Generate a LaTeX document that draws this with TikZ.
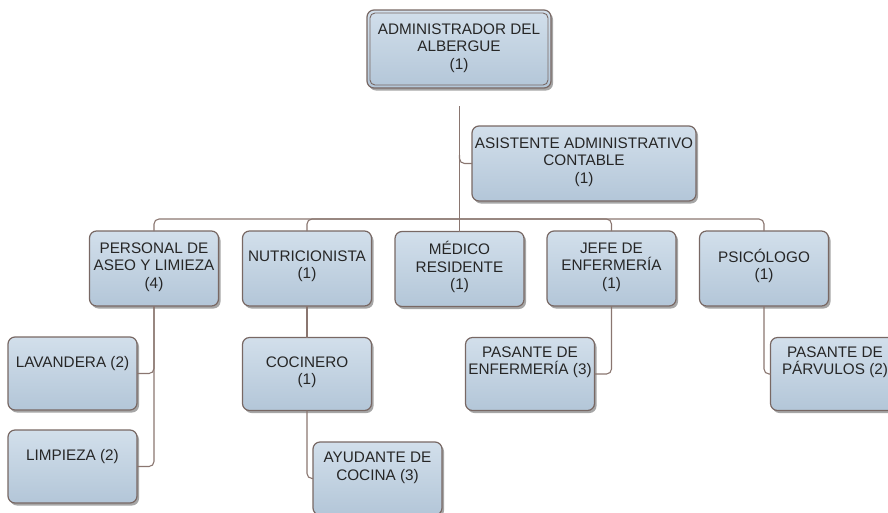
\documentclass[tikz,border=0pt]{standalone}
\usepackage{fontspec}
\setmainfont{Liberation Sans}
\usetikzlibrary{shadows}
\definecolor{lc}{HTML}{8A7670}
\definecolor{bc}{HTML}{786864}
\definecolor{ftop}{HTML}{D2DFEB}
\definecolor{fbot}{HTML}{B3C6D8}
\definecolor{tc}{HTML}{262626}
\begin{document}
\begin{tikzpicture}[x=1pt,y=-1pt,
  box/.style={draw=bc, line width=1.2pt, rounded corners=7pt, top color=ftop, bottom color=fbot,
    inner sep=0pt, outer sep=0pt,
    drop shadow={shadow xshift=2pt, shadow yshift=-2.5pt, opacity=0.35, fill=black}},
  lvtwo/.style={box, minimum width=129pt, minimum height=75pt},
  lvthree/.style={box, minimum width=129pt, minimum height=73pt},
  txt/.style={text=tc, align=center, font=\fontsize{15.3}{17.5}\selectfont, inner sep=0pt},
  conn/.style={draw=lc, line width=1.1pt, rounded corners=5pt}]
\useasboundingbox (0,0) rectangle (888,512);

% boxes
\node[box, minimum width=184pt, minimum height=78pt] (root) at (459,49) {};
\draw[bc, line width=0.9pt, rounded corners=5pt] ([shift={(3,3)}]root.north west) rectangle ([shift={(-3,-3)}]root.south east);
\node[box, minimum width=224pt, minimum height=75pt] (asst) at (584,163.5) {};

\node[lvtwo] (pers) at (154,268.5) {};
\node[lvtwo] (nutri) at (307,268.5) {};
\node[lvtwo] (med) at (459.5,269) {};
\node[lvtwo] (jefe) at (611.5,268.5) {};
\node[lvtwo] (psi) at (764,268.5) {};

\node[lvthree] (lav) at (72.5,373.5) {};
\node[lvthree] (limp) at (72.5,466.5) {};
\node[lvthree] (coc) at (307,374) {};
\node[lvthree] (ayud) at (377.5,478.5) {};
\node[lvthree] (pase) at (530,374) {};
\node[lvthree] (pasp) at (835,374) {};

% texts
\node[txt] (root-t) at (459,48) {ADMINISTRADOR DEL\\ALBERGUE\\(1)};
\node[txt] (asst-t) at (584,162) {ASISTENTE ADMINISTRATIVO\\CONTABLE\\(1)};
\node[txt] (pers-t) at (154,267) {PERSONAL DE\\ASEO Y LIMIEZA\\(4)};
\node[txt] (nutri-t) at (307,266) {NUTRICIONISTA\\(1)};
\node[txt] (med-t) at (459.5,267) {MÉDICO\\RESIDENTE\\(1)};
\node[txt] (jefe-t) at (611.5,267) {JEFE DE\\ENFERMERÍA\\(1)};
\node[txt] (psi-t) at (764,266) {PSICÓLOGO\\(1)};
\node[txt] (lav-t) at (72.5,364) {LAVANDERA (2)};
\node[txt] (limp-t) at (72.5,457) {LIMPIEZA (2)};
\node[txt] (coc-t) at (307,372) {COCINERO\\(1)};
\node[txt] (ayud-t) at (377.5,468) {AYUDANTE DE\\COCINA (3)};
\node[txt] (pase-t) at (530,362) {PASANTE DE\\ENFERMERÍA (3)};
\node[txt] (pasp-t) at (835,362) {PASANTE DE\\PÁRVULOS (2)};

% connectors
\coordinate (top) at (459.5,106);
\coordinate (bus) at (459.5,219);
\coordinate (abr) at (459.5,155);
\draw[conn] (top) -- (med.north);
\draw[conn] (abr) |- (asst.west);
\draw[conn] (pers.north) |- (bus) -| (psi.north);
\draw[conn] (nutri.north) |- (bus);
\draw[conn] (jefe.north) |- (bus);
\draw[conn] (pers.south) |- (lav.east);
\draw[conn] (pers.south) |- (limp.east);
\draw[conn] (nutri.south) -- (coc.north);
\draw[conn] (coc.south) |- (ayud.west);
\draw[conn] (jefe.south) |- (pase.east);
\draw[conn] (psi.south) |- (pasp.west);
\end{tikzpicture}
\end{document}
